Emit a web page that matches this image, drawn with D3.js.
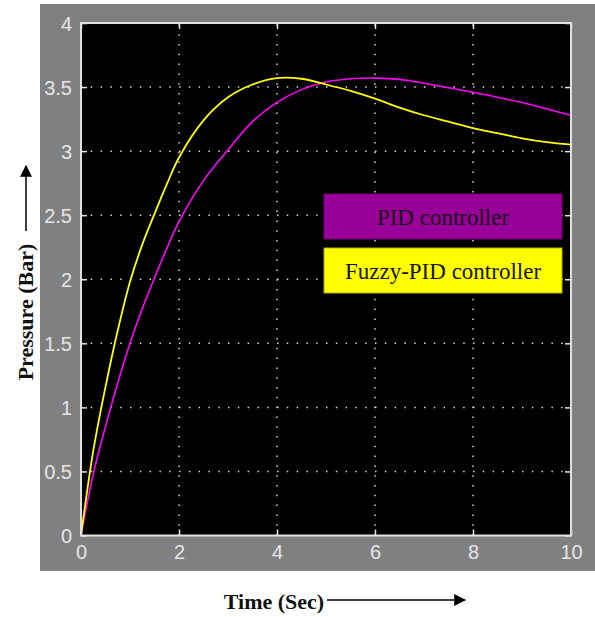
<!DOCTYPE html>
<html>
<head>
<meta charset="utf-8">
<script src="https://cdn.jsdelivr.net/npm/d3@7"></script>
<style>
  body { margin: 0; background: #fff; }
</style>
</head>
<body>
<div id="chart"></div>
<script>
// time axis samples (sec)
var time = [0, 0.25, 0.5, 0.75, 1, 1.25, 1.5, 1.75, 2, 2.5, 3, 3.5, 4, 4.5, 5, 5.5, 6, 6.5, 7, 7.5, 8, 8.5, 9, 9.5, 10];
// pressure (bar)
var pidValues   = [0, 0.48, 0.85, 1.19, 1.5, 1.77, 2.01, 2.24, 2.45, 2.77, 3.01, 3.23, 3.38, 3.48, 3.54, 3.565, 3.57, 3.56, 3.53, 3.495, 3.46, 3.42, 3.38, 3.33, 3.28];
var fuzzyValues = [0, 0.66, 1.16, 1.60, 1.98, 2.27, 2.51, 2.74, 2.95, 3.24, 3.42, 3.52, 3.57, 3.565, 3.52, 3.47, 3.41, 3.34, 3.28, 3.23, 3.18, 3.14, 3.10, 3.07, 3.05];
var xTicks = [0, 2, 4, 6, 8, 10];
var yTicks = [0, 0.5, 1, 1.5, 2, 2.5, 3, 3.5, 4];
var legendLabels = ["PID controller", "Fuzzy-PID controller"];

var width = 595, height = 617;
var plotLeft = 81, plotRight = 571, plotTop = 23, plotBottom = 535.5;

var svg = d3.select("#chart").append("svg")
    .attr("width", width)
    .attr("height", height);

// gray figure background
svg.append("rect")
    .attr("x", 40).attr("y", 4)
    .attr("width", width - 40).attr("height", 567)
    .attr("fill", "#808080");

var x = d3.scaleLinear().domain([0, 10]).range([plotLeft, plotRight]);
var y = d3.scaleLinear().domain([0, 4]).range([plotBottom, plotTop]);

svg.append("rect")
    .attr("x", plotLeft).attr("y", plotTop)
    .attr("width", plotRight - plotLeft).attr("height", plotBottom - plotTop)
    .attr("fill", "#000");

// dotted grid
var grid = svg.append("g")
    .attr("stroke", "#d8d8d8")
    .attr("stroke-width", 1.5)
    .attr("stroke-dasharray", "1.5,8.3");

grid.selectAll(".gx")
    .data(xTicks.slice(1, -1))
  .enter().append("line")
    .attr("x1", function(d) { return x(d); })
    .attr("x2", function(d) { return x(d); })
    .attr("y1", plotBottom).attr("y2", plotTop);

grid.selectAll(".gy")
    .data(yTicks.slice(1, -1))
  .enter().append("line")
    .attr("y1", function(d) { return y(d); })
    .attr("y2", function(d) { return y(d); })
    .attr("x1", plotLeft).attr("x2", plotRight);

// curves
var line = d3.line()
    .x(function(d) { return x(d[0]); })
    .y(function(d) { return y(d[1]); })
    .curve(d3.curveCatmullRom.alpha(0.5));

svg.append("path")
    .datum(time.map(function(t, i) { return [t, pidValues[i]]; }))
    .attr("d", line)
    .attr("fill", "none")
    .attr("stroke", "#ff00ff")
    .attr("stroke-width", 1.6);

svg.append("path")
    .datum(time.map(function(t, i) { return [t, fuzzyValues[i]]; }))
    .attr("d", line)
    .attr("fill", "none")
    .attr("stroke", "#ffff00")
    .attr("stroke-width", 1.8);

// axes (ticks inward, on all four sides)
var tickColor = "#e6e6e6";
function styleAxis(g) {
  g.select(".domain").remove();
  g.selectAll(".tick line").attr("stroke", tickColor).attr("stroke-width", 1.5);
  g.selectAll(".tick text")
    .attr("fill", tickColor)
    .attr("font-family", "Liberation Sans, Arial, sans-serif")
    .attr("font-size", 20);
}

svg.append("g")
    .attr("transform", "translate(0," + plotBottom + ")")
    .call(d3.axisBottom(x).tickValues(xTicks).tickSizeInner(-6).tickSizeOuter(0).tickPadding(9).tickFormat(d3.format("d")))
    .call(styleAxis);

svg.append("g")
    .attr("transform", "translate(" + plotLeft + ",0)")
    .call(d3.axisLeft(y).tickValues(yTicks).tickSizeInner(-6).tickSizeOuter(0).tickPadding(9).tickFormat(function(d) { return d; }))
    .call(styleAxis)
    .selectAll(".tick text").attr("dy", "0.36em");

svg.append("g")
    .attr("transform", "translate(0," + plotTop + ")")
    .call(d3.axisTop(x).tickValues(xTicks).tickSizeInner(-6).tickSizeOuter(0).tickFormat(""))
    .call(styleAxis);

svg.append("g")
    .attr("transform", "translate(" + plotRight + ",0)")
    .call(d3.axisRight(y).tickValues(yTicks).tickSizeInner(-6).tickSizeOuter(0).tickFormat(""))
    .call(styleAxis);

// plot frame
svg.append("rect")
    .attr("x", plotLeft).attr("y", plotTop)
    .attr("width", plotRight - plotLeft).attr("height", plotBottom - plotTop)
    .attr("fill", "none")
    .attr("stroke", "#e0e0e0")
    .attr("stroke-width", 2);

// legend boxes
var legendFill = ["#990099", "#ffff00"];
var legendStroke = ["#7a007a", "#b0b000"];
var legend = svg.selectAll(".legend")
    .data(legendLabels)
  .enter().append("g")
    .attr("transform", function(d, i) { return "translate(324," + (194 + i * 54) + ")"; });

legend.append("rect")
    .attr("width", 238).attr("height", 45)
    .attr("fill", function(d, i) { return legendFill[i]; })
    .attr("stroke", function(d, i) { return legendStroke[i]; })
    .attr("stroke-width", 1);

legend.append("text")
    .attr("x", 119).attr("y", 23)
    .attr("dy", "0.35em")
    .attr("text-anchor", "middle")
    .attr("font-family", "Liberation Serif, Times New Roman, serif")
    .attr("font-size", 23)
    .attr("fill", "#141414")
    .text(function(d) { return d; });

// axis titles with arrows
svg.append("defs").append("marker")
    .attr("id", "arrow")
    .attr("viewBox", "0 0 10 10")
    .attr("refX", 9).attr("refY", 5)
    .attr("markerWidth", 12).attr("markerHeight", 12)
    .attr("markerUnits", "userSpaceOnUse")
    .attr("orient", "auto")
  .append("path")
    .attr("d", "M0,0L10,5L0,10z")
    .attr("fill", "#000");

svg.append("text")
    .attr("transform", "translate(33,312) rotate(-90)")
    .attr("text-anchor", "middle")
    .attr("font-family", "Liberation Serif, Times New Roman, serif")
    .attr("font-weight", "bold")
    .attr("font-size", 22)
    .attr("fill", "#111")
    .text("Pressure (Bar)");

svg.append("line")
    .attr("x1", 26).attr("x2", 26)
    .attr("y1", 231).attr("y2", 166)
    .attr("stroke", "#000").attr("stroke-width", 1.5)
    .attr("marker-end", "url(#arrow)");

svg.append("text")
    .attr("x", 274).attr("y", 609)
    .attr("text-anchor", "middle")
    .attr("font-family", "Liberation Serif, Times New Roman, serif")
    .attr("font-weight", "bold")
    .attr("font-size", 22)
    .attr("fill", "#111")
    .text("Time (Sec)");

svg.append("line")
    .attr("x1", 327).attr("x2", 465)
    .attr("y1", 600).attr("y2", 600)
    .attr("stroke", "#000").attr("stroke-width", 1.5)
    .attr("marker-end", "url(#arrow)");
</script>
</body>
</html>
